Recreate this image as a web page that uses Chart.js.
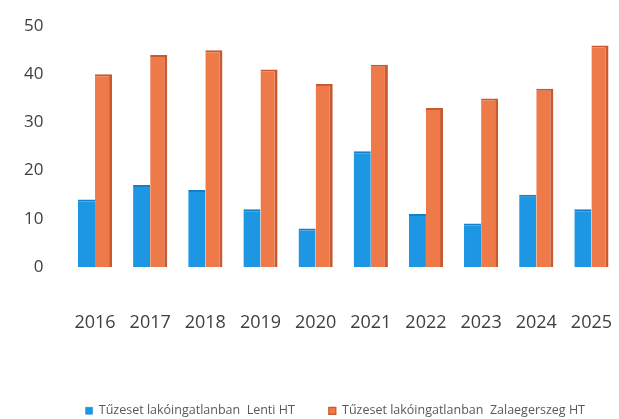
<!DOCTYPE html>
<html><head><meta charset="utf-8">
<script src="https://cdn.jsdelivr.net/npm/chart.js@4"></script>
<style>html,body{margin:0;padding:0;background:#fff}#wrap{width:619px;height:419px}</style>
</head><body><div id="wrap"><canvas id="c" width="619" height="419"></canvas></div>
<script>
const years = ["2016","2017","2018","2019","2020","2021","2022","2023","2024","2025"];
const lentiHT = [14,17,16,12,8,24,11,9,15,12];
const zalaegerszegHT = [40,44,45,41,38,42,33,35,37,46];
const seriesNames = ["Tűzeset lakóingatlanban  Lenti HT","Tűzeset lakóingatlanban  Zalaegerszeg HT"];
const yTicks = [0,10,20,30,40,50];

new Chart(document.getElementById('c'), {
  type: 'bar',
  data: {
    labels: years,
    datasets: [
      {label: seriesNames[0], data: lentiHT, backgroundColor: '#1d96e3', borderColor:'#1580c6', borderWidth:{right:0,left:0,top:2,bottom:0}},
      {label: seriesNames[1], data: zalaegerszegHT, backgroundColor: '#ee7a4a', borderColor:'#c85a30', borderWidth:{right:3,left:0,top:2,bottom:0}}
    ]
  },
  options: {
    responsive: false,
    animation: false,
    layout: {padding: {left: 8, right: 0, top: 21, bottom: -8}},
    datasets: {bar: {categoryPercentage: 0.62, barPercentage: 1.0}},
    scales: {
      x: {
        grid: {display: false},
        border: {display: false},
        ticks: {color: '#404040', font: {family: 'Open Sans', size: 18}, padding: 37, maxRotation: 0},
        afterFit: s => { s.paddingRight = 0; s.paddingLeft = 0; }
      },
      y: {
        min: 0, max: 50,
        afterBuildTicks: ax => { ax.ticks = yTicks.map(v => ({value: v})); },
        grid: {display: false},
        border: {display: false},
        ticks: {color: '#404040', font: {family: 'Open Sans', size: 17}, padding: 16}
      }
    },
    plugins: {
      legend: {
        position: 'bottom',
        align: 'end',
        labels: {boxWidth: 7, boxHeight: 7, padding: 34, color: '#595959', font: {family: 'Open Sans', size: 12.5}}
      },
      tooltip: {enabled: false}
    }
  }
});
</script></body></html>
